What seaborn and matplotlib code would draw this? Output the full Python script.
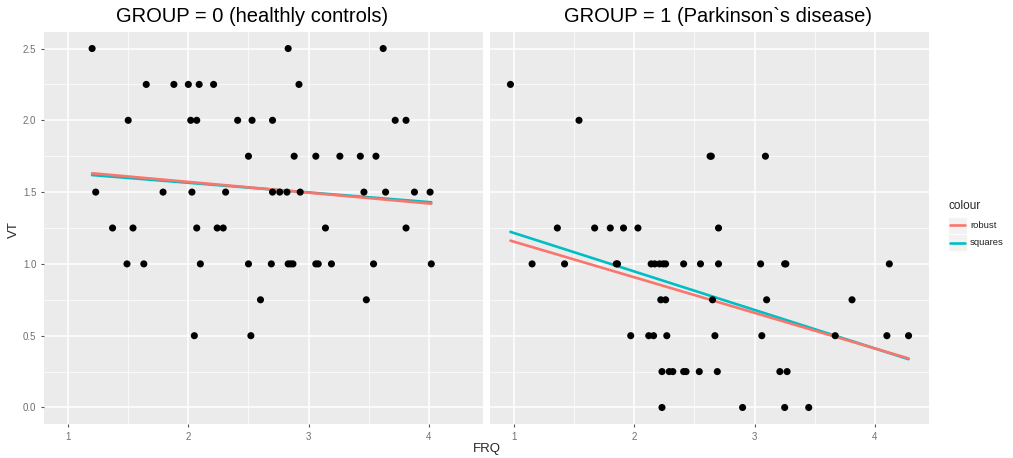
import numpy as np
import pandas as pd
import matplotlib
matplotlib.use("Agg")
import matplotlib.pyplot as plt
import seaborn as sns
from matplotlib.lines import Line2D
from matplotlib.patches import Rectangle
from matplotlib.ticker import MultipleLocator, FormatStrFormatter

# GROUP = 0 (healthy controls): FRQ values listed per VT level
frq0 = [1.20, 2.83, 3.62,
        1.65, 1.88, 2.00, 2.09, 2.21, 2.92,
        1.50, 2.02, 2.07, 2.41, 2.53, 2.70, 3.72, 3.81,
        2.50, 2.88, 3.06, 3.26, 3.43, 3.56,
        1.23, 1.79, 2.03, 2.31, 2.70, 2.76, 2.82, 2.93, 3.46, 3.64, 3.88, 4.01,
        1.37, 1.54, 2.07, 2.24, 2.29, 3.14, 3.81,
        1.49, 1.63, 2.10, 2.50, 2.69, 2.83, 2.85, 2.87, 3.06, 3.08, 3.19, 3.54, 4.02,
        2.60, 3.48,
        2.05, 2.52]
vt0 = ([2.5] * 3 + [2.25] * 6 + [2.0] * 8 + [1.75] * 6 + [1.5] * 12 +
       [1.25] * 7 + [1.0] * 13 + [0.75] * 2 + [0.5] * 2)

# GROUP = 1 (Parkinson's disease)
frq1 = [0.97,
        1.54,
        2.63, 2.64, 3.09,
        1.36, 1.67, 1.80, 1.91, 2.03, 2.70,
        1.15, 1.42, 1.85, 1.86, 2.14, 2.17, 2.21, 2.24, 2.26, 2.41, 2.55, 2.70, 3.05, 3.25, 3.26, 4.12,
        2.22, 2.26, 2.65, 3.10, 3.81,
        1.97, 2.12, 2.16, 2.27, 2.67, 3.06, 3.67, 4.10, 4.28,
        2.23, 2.29, 2.32, 2.41, 2.43, 2.54, 2.69, 3.21, 3.27,
        2.23, 2.90, 3.25, 3.45]
vt1 = ([2.25] * 1 + [2.0] * 1 + [1.75] * 3 + [1.25] * 6 + [1.0] * 16 +
       [0.75] * 5 + [0.5] * 9 + [0.25] * 9 + [0.0] * 4)

titles = ["GROUP = 0 (healthly controls)", "GROUP = 1 (Parkinson`s disease)"]
fit_names = ["robust", "squares"]
fit_colors = {"robust": "#F8766D", "squares": "#00BFC4"}


def huber_fit(x, y, k=1.345, n_iter=100):
    # IRLS Huber M-estimator (like MASS::rlm)
    X = np.column_stack([np.ones_like(x), x])
    beta = np.linalg.lstsq(X, y, rcond=None)[0]
    for _ in range(n_iter):
        r = y - X @ beta
        s = np.median(np.abs(r)) / 0.6745
        u = np.abs(r) / s
        w = np.where(u <= k, 1.0, k / np.maximum(u, 1e-12))
        sw = np.sqrt(w)
        beta = np.linalg.lstsq(X * sw[:, None], y * sw, rcond=None)[0]
    return beta


def fit_lines(x, y):
    x = np.asarray(x, float)
    y = np.asarray(y, float)
    xs = np.array([x.min(), x.max()])
    ols = np.polyfit(x, y, 1)
    rb = huber_fit(x, y)
    rows = []
    for xv in xs:
        rows.append({"FRQ": xv, "VT": rb[0] + rb[1] * xv, "colour": "robust"})
        rows.append({"FRQ": xv, "VT": np.polyval(ols, xv), "colour": "squares"})
    return pd.DataFrame(rows)


sns.set_theme(style="darkgrid")
plt.rcParams["font.family"] = ["Liberation Sans", "DejaVu Sans"]

fig = plt.figure(figsize=(10.13, 4.58), dpi=100)
ax_w, ax_h = 439 / 1013, 392 / 458
ax_b = 1 - 424 / 458
axes = [fig.add_axes([44 / 1013, ax_b, ax_w, ax_h]),
        fig.add_axes([490 / 1013, ax_b, ax_w, ax_h])]

groups = [(frq0, vt0), (frq1, vt1)]
title_x = [0.474, 0.519]

for i, ax in enumerate(axes):
    frq, vt = groups[i]
    pts = pd.DataFrame({"FRQ": frq, "VT": vt})
    lines = fit_lines(frq, vt)
    ax.set_facecolor("#EBEBEB")
    # squares first so the robust line sits on top, as in the original
    sns.lineplot(data=lines, x="FRQ", y="VT", hue="colour", palette=fit_colors,
                 hue_order=["squares", "robust"], linewidth=1.9, legend=False,
                 ax=ax, zorder=2)
    sns.scatterplot(data=pts, x="FRQ", y="VT", color="black", s=26,
                    edgecolor="none", ax=ax, zorder=3)
    ax.set_xlim(0.80, 4.45)
    ax.set_ylim(-0.115, 2.615)
    ax.xaxis.set_major_locator(MultipleLocator(1))
    ax.xaxis.set_minor_locator(MultipleLocator(0.5))
    ax.yaxis.set_major_locator(MultipleLocator(0.5))
    ax.yaxis.set_minor_locator(MultipleLocator(0.25))
    ax.yaxis.set_major_formatter(FormatStrFormatter("%.1f"))
    ax.grid(which="major", color="white", linewidth=1.1)
    ax.grid(which="minor", color="white", linewidth=0.5)
    for sp in ax.spines.values():
        sp.set_visible(False)
    ax.tick_params(which="major", length=2.5, width=0.8, color="#555555",
                   labelsize=7, labelcolor="#707070", pad=3, bottom=True, left=True)
    ax.tick_params(which="minor", length=0)
    ax.set_xlabel("")
    ax.set_ylabel("")
    ax.text(title_x[i], 1 + 15 / 392, titles[i], transform=ax.transAxes,
            ha="center", va="center", fontsize=14.5, color="black")

axes[1].tick_params(axis="y", which="both", left=False, labelleft=False)

fig.text(487 / 1013, 1 - 449 / 458, "FRQ", ha="center", va="center", fontsize=9.5)
fig.text(14 / 1013, 1 - 230 / 458, "VT", ha="center", va="center", fontsize=9.5,
         rotation=90)

# legend
fig.text(948 / 1013, 1 - 206 / 458, "colour", ha="left", va="center", fontsize=8.5)
for j, name in enumerate(fit_names):
    yc = 225 + j * 17.5
    fig.add_artist(Rectangle((948 / 1013, 1 - (yc + 8.5) / 458), 19 / 1013, 17 / 458,
                             transform=fig.transFigure, facecolor="#F2F2F2",
                             edgecolor="white", linewidth=0.6))
    fig.add_artist(Line2D([950 / 1013, 965 / 1013], [1 - yc / 458, 1 - yc / 458],
                          transform=fig.transFigure, color=fit_colors[name], linewidth=1.9))
    fig.text(970 / 1013, 1 - yc / 458, name, ha="left", va="center", fontsize=6.8,
             color="#222222")

fig.savefig("out.png", dpi=100)
